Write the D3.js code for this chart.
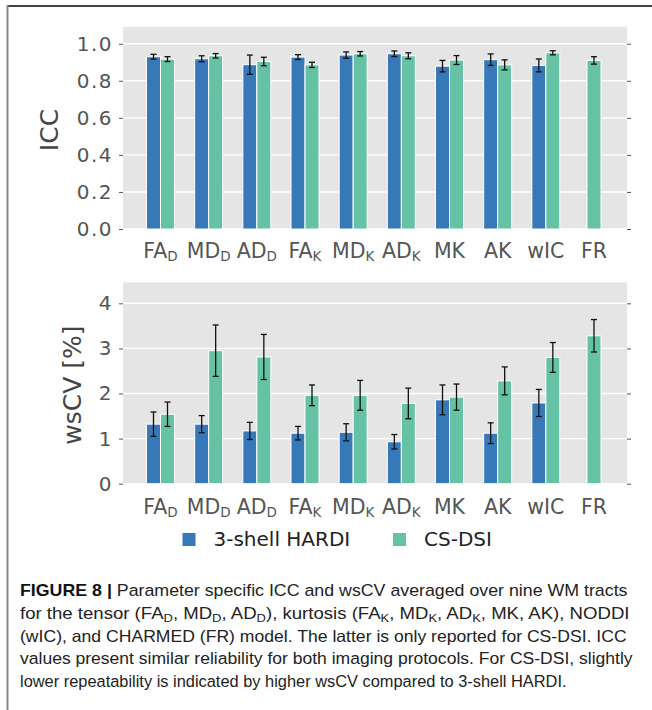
<!DOCTYPE html>
<html lang="en">
<head>
  <meta charset="UTF-8">
  <title>ICC and wsCV per parameter</title>
  <script src="https://d3js.org/d3.v7.min.js"></script>
  <style>
    body { margin: 0; background: #fff; }
    svg { display: block; }
  </style>
</head>
<body>
  <svg id="fig" width="652" height="710"></svg>

  <script>
    // categories and their label parts (main + subscript)
    const categories = ["FA_D", "MD_D", "AD_D", "FA_K", "MD_K", "AD_K", "MK", "AK", "wIC", "FR"]
    const labelMain = ["FA", "MD", "AD", "FA", "MD", "AD", "MK", "AK", "wIC", "FR"]
    const labelSub = ["D", "D", "D", "K", "K", "K", "", "", "", ""]

    const seriesNames = ["3-shell HARDI", "CS-DSI"]

    // ICC (top panel)
    const iccHardi = [0.930, 0.919, 0.887, 0.928, 0.939, 0.946, 0.879, 0.914, 0.883, null]
    const iccHardiErr = [0.013, 0.016, 0.052, 0.013, 0.017, 0.015, 0.031, 0.031, 0.035, null]
    const iccDsi = [0.917, 0.935, 0.904, 0.886, 0.946, 0.935, 0.912, 0.886, 0.951, 0.910]
    const iccDsiErr = [0.013, 0.012, 0.023, 0.014, 0.012, 0.016, 0.024, 0.027, 0.011, 0.020]
    const iccTicks = [0, 0.2, 0.4, 0.6, 0.8, 1.0]

    // wsCV [%] (bottom panel)
    const wscvHardi = [1.32, 1.32, 1.17, 1.12, 1.14, 0.93, 1.86, 1.12, 1.79, null]
    const wscvHardiErr = [0.27, 0.19, 0.19, 0.15, 0.19, 0.16, 0.33, 0.23, 0.30, null]
    const wscvDsi = [1.54, 2.95, 2.81, 1.96, 1.96, 1.78, 1.92, 2.28, 2.80, 3.28]
    const wscvDsiErr = [0.27, 0.57, 0.50, 0.23, 0.33, 0.34, 0.29, 0.31, 0.33, 0.36]
    const wscvTicks = [0, 1, 2, 3, 4]

    const blue = "#3778b8"
    const green = "#66c2a5"
    const font = "'DejaVu Sans', sans-serif"
    const tickColor = "#555"

    const svg = d3.select("#fig")

    // outer frame (top and left edges only)
    svg.append("line").attr("x1", 7).attr("x2", 652).attr("y1", 6).attr("y2", 6)
      .attr("stroke", "#444").attr("stroke-width", 2)
    svg.append("line").attr("x1", 7.5).attr("x2", 7.5).attr("y1", 5).attr("y2", 710)
      .attr("stroke", "#888").attr("stroke-width", 2)

    const plotL = 123, plotR = 627
    const x = d3.scalePoint().domain(categories).range([160.5, 594])
    const barW = 14

    function panel(opts) {
      const y = d3.scaleLinear().domain(opts.domain).range([opts.bottom, opts.top])
      const g = svg.append("g")

      g.append("rect")
        .attr("x", plotL).attr("y", opts.top)
        .attr("width", plotR - plotL).attr("height", opts.bottom - opts.top)
        .attr("fill", "#e5e5e5")

      // grid
      g.selectAll(".grid").data(opts.ticks).enter().append("line")
        .attr("x1", plotL).attr("x2", plotR)
        .attr("y1", d => y(d)).attr("y2", d => y(d))
        .attr("stroke", "#fff").attr("stroke-width", 1.4)

      // left axis
      const left = g.append("g").attr("transform", "translate(" + plotL + ",0)")
        .call(d3.axisLeft(y).tickValues(opts.ticks).tickFormat(opts.fmt).tickSize(4).tickPadding(6))
      left.select(".domain").remove()
      left.selectAll("line").attr("stroke", tickColor)
      left.selectAll("text").attr("fill", tickColor)
        .style("font-family", font).style("font-size", "20px").style("letter-spacing", "1.5px")

      // right ticks without labels
      const right = g.append("g").attr("transform", "translate(" + plotR + ",0)")
        .call(d3.axisRight(y).tickValues(opts.ticks).tickFormat("").tickSize(4))
      right.select(".domain").remove()
      right.selectAll("line").attr("stroke", tickColor)

      // bars
      const rows = categories.map((c, i) => ({
        c: c,
        h: opts.hardi[i], he: opts.hardiErr[i],
        d: opts.dsi[i], de: opts.dsiErr[i]
      }))

      const bars = []
      rows.forEach(r => {
        const only = r.h == null
        if (!only) bars.push({ x0: x(r.c) - barW, v: r.h, e: r.he, color: blue })
        bars.push({ x0: only ? x(r.c) - barW / 2 : x(r.c), v: r.d, e: r.de, color: green })
      })

      g.selectAll(".bar").data(bars).enter().append("rect")
        .attr("x", d => d.x0)
        .attr("y", d => y(d.v))
        .attr("width", barW)
        .attr("height", d => y(0) - y(d.v))
        .attr("fill", d => d.color)
        .attr("stroke", "#fff")
        .attr("stroke-width", 1)

      // error bars
      const eb = g.selectAll(".err").data(bars).enter().append("g")
        .attr("stroke", "#111").attr("stroke-width", 1.3)
      eb.append("line")
        .attr("x1", d => d.x0 + barW / 2).attr("x2", d => d.x0 + barW / 2)
        .attr("y1", d => y(d.v + d.e)).attr("y2", d => y(d.v - d.e))
      eb.append("line")
        .attr("x1", d => d.x0 + barW / 2 - 3).attr("x2", d => d.x0 + barW / 2 + 3)
        .attr("y1", d => y(d.v + d.e)).attr("y2", d => y(d.v + d.e))
      eb.append("line")
        .attr("x1", d => d.x0 + barW / 2 - 3).attr("x2", d => d.x0 + barW / 2 + 3)
        .attr("y1", d => y(d.v - d.e)).attr("y2", d => y(d.v - d.e))

      // category labels with subscripts
      const lab = g.selectAll(".xlab").data(categories).enter().append("text")
        .attr("x", d => x(d))
        .attr("y", opts.labelY)
        .attr("text-anchor", "middle")
        .attr("fill", tickColor)
        .style("font-family", font)
        .style("font-size", "20.5px")
      lab.append("tspan").text((d, i) => labelMain[i])
      lab.filter((d, i) => labelSub[i] !== "")
        .append("tspan")
        .attr("dy", 3)
        .style("font-size", "13.5px")
        .text(d => labelSub[categories.indexOf(d)])

      // y label
      g.append("text")
        .attr("transform", "translate(" + opts.ylabX + "," + opts.ylabY + ") rotate(-90)")
        .attr("text-anchor", "middle")
        .attr("fill", "#444")
        .style("font-family", font)
        .style("font-size", "25px")
        .text(opts.ylabel)
    }

    panel({
      top: 26.7, bottom: 229, domain: [0, 1.092], ticks: iccTicks,
      fmt: d3.format(".1f"), hardi: iccHardi, hardiErr: iccHardiErr,
      dsi: iccDsi, dsiErr: iccDsiErr, labelY: 258,
      ylabel: "ICC", ylabX: 58, ylabY: 130
    })

    panel({
      top: 282.3, bottom: 483.7, domain: [0, 4.466], ticks: wscvTicks,
      fmt: d3.format("d"), hardi: wscvHardi, hardiErr: wscvHardiErr,
      dsi: wscvDsi, dsiErr: wscvDsiErr, labelY: 513.5,
      ylabel: "wsCV [%]", ylabX: 81, ylabY: 385
    })

    // legend
    const legendX = [182.5, 393]
    const leg = svg.selectAll(".leg").data(seriesNames).enter().append("g")
      .attr("transform", (d, i) => "translate(" + legendX[i] + ",533)")
    leg.append("rect").attr("width", 13).attr("height", 13)
      .attr("fill", (d, i) => i === 0 ? blue : green)
    leg.append("text").attr("x", 31).attr("y", 13)
      .attr("fill", "#222")
      .style("font-family", font).style("font-size", "20px")
      .text(d => d)

    // caption
    const captionLines = [
      [["FIGURE 8 | ", "b"], ["Parameter specific ICC and wsCV averaged over nine WM tracts"]],
      [["for the tensor (FA"], ["D", "s"], [", MD"], ["D", "s"], [", AD"], ["D", "s"], ["), kurtosis (FA"], ["K", "s"], [", MD"], ["K", "s"], [", AD"], ["K", "s"], [", MK, AK), NODDI"]],
      [["(wIC), and CHARMED (FR) model. The latter is only reported for CS-DSI. ICC"]],
      [["values present similar reliability for both imaging protocols. For CS-DSI, slightly"]],
      [["lower repeatability is indicated by higher wsCV compared to 3-shell HARDI."]]
    ]
    const captionWidths = [608, 610, 607, 613, 547]
    const captionY = [596, 619, 641.5, 664, 687]

    captionLines.forEach((parts, li) => {
      const g = svg.append("g")
      const t = g.append("text")
        .attr("x", 0).attr("y", 0)
        .attr("fill", "#222")
        .style("font-family", "'Liberation Sans', Arial, sans-serif")
        .style("font-size", "16.5px")
      let down = false
      parts.forEach(p => {
        const sp = t.append("tspan").text(p[0])
        if (p[1] === "b") sp.style("font-weight", "bold").attr("fill", "#111")
        if (p[1] === "s") { sp.style("font-size", "11.5px").attr("dy", 3); down = true }
        else if (down) { sp.attr("dy", -3); down = false }
      })
      const w = t.node().getComputedTextLength()
      g.attr("transform", "translate(20," + captionY[li] + ") scale(" + (captionWidths[li] / w) + ",1)")
    })
  </script>
</body>
</html>
